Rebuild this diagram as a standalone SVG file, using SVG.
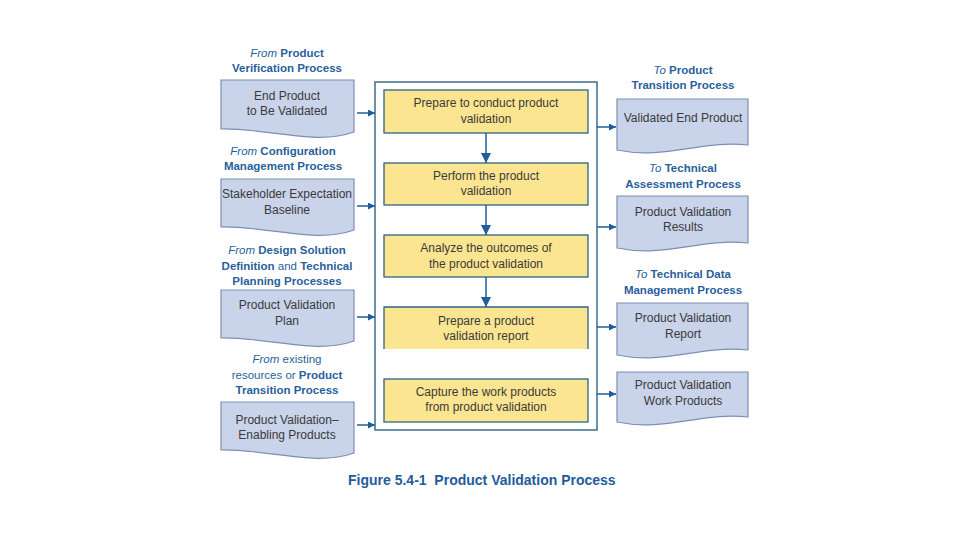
<svg xmlns="http://www.w3.org/2000/svg" width="960" height="540" viewBox="0 0 960 540">
<style>
.doc{fill:#C9D3EA;stroke:#7C8FB6;stroke-width:1.2}
.step{fill:#FCE591;stroke:#2E6485;stroke-width:1.3}
.frame{fill:none;stroke:#2E6485;stroke-width:1.4}
.t{font-family:"Liberation Sans",Arial,sans-serif;font-size:12px;fill:#3A3A3A;text-anchor:middle}
.lb{font-family:"Liberation Sans",Arial,sans-serif;font-size:11.5px;fill:#2A5F9C;text-anchor:middle;font-weight:bold}
.it{font-style:italic;font-weight:normal}
.nb{font-weight:normal}
.cap{font-family:"Liberation Sans",Arial,sans-serif;font-size:14px;fill:#1F5C99;font-weight:bold}
.c{stroke:#1F5E9A;stroke-width:1.5;fill:none}
</style>
<defs>
<marker id="ah" viewBox="0 0 10 10" refX="10" refY="5" markerWidth="7" markerHeight="7" orient="auto" markerUnits="userSpaceOnUse">
<path d="M0,0 L10,5 L0,10 z" fill="#1F5E9A"/>
</marker>
<marker id="ahb" viewBox="0 0 10 10" refX="10" refY="5" markerWidth="10" markerHeight="10" orient="auto" markerUnits="userSpaceOnUse">
<path d="M0,0 L10,5 L0,10 z" fill="#1F5E9A"/>
</marker>
</defs>
<rect width="960" height="540" fill="#FFFFFF"/>

<!-- Left inputs -->
<g id="in1">
<text class="lb" x="287" y="57"><tspan class="it">From</tspan> Product</text>
<text class="lb" x="287" y="72">Verification Process</text>
<path class="doc" d="M221,80 H354 V132 C315,146 270,128 221,129 Z"/>
<text class="t" x="287" y="100">End Product</text>
<text class="t" x="287" y="115">to Be Validated</text>
</g>
<g id="in2">
<text class="lb" x="283" y="155"><tspan class="it">From</tspan> Configuration</text>
<text class="lb" x="283" y="170">Management Process</text>
<path class="doc" d="M221,179 H354 V230 C315,244 270,226 221,227 Z"/>
<text class="t" x="287" y="198">Stakeholder Expectation</text>
<text class="t" x="287" y="214">Baseline</text>
</g>
<g id="in3">
<text class="lb" x="287" y="254"><tspan class="it">From</tspan> Design Solution</text>
<text class="lb" x="287" y="270">Definition <tspan class="nb">and</tspan> Technical</text>
<text class="lb" x="287" y="285">Planning Processes</text>
<path class="doc" d="M221,290 H354 V341 C315,355 270,337 221,338 Z"/>
<text class="t" x="287" y="309">Product Validation</text>
<text class="t" x="287" y="325">Plan</text>
</g>
<g id="in4">
<text class="lb" x="287" y="363"><tspan class="it">From</tspan><tspan class="nb"> existing</tspan></text>
<text class="lb" x="287" y="379"><tspan class="nb">resources or </tspan>Product</text>
<text class="lb" x="287" y="394">Transition Process</text>
<path class="doc" d="M221,402 H354 V453 C315,467 270,449 221,450 Z"/>
<text class="t" x="287" y="424">Product Validation–</text>
<text class="t" x="287" y="439">Enabling Products</text>
</g>

<!-- Central process -->
<g id="frame">
<rect class="frame" x="375" y="82" width="222" height="348"/>
</g>
<g id="s1">
<rect class="step" x="384" y="90" width="204" height="43"/>
<text class="t" x="486" y="107">Prepare to conduct product</text>
<text class="t" x="486" y="123">validation</text>
</g>
<g id="s2">
<rect class="step" x="384" y="163" width="204" height="42"/>
<text class="t" x="486" y="180">Perform the product</text>
<text class="t" x="486" y="195">validation</text>
</g>
<g id="s3">
<rect class="step" x="384" y="235" width="204" height="42"/>
<text class="t" x="486" y="252">Analyze the outcomes of</text>
<text class="t" x="486" y="268">the product validation</text>
</g>
<g id="s4">
<rect x="384" y="307" width="204" height="42" fill="#FCE591"/>
<path d="M384,349 V307 H588 V349" fill="none" stroke="#2E6485" stroke-width="1.3"/>
<text class="t" x="486" y="325">Prepare a product</text>
<text class="t" x="486" y="340">validation report</text>
</g>
<g id="s5">
<rect class="step" x="384" y="379" width="204" height="43"/>
<text class="t" x="486" y="396">Capture the work products</text>
<text class="t" x="486" y="411">from product validation</text>
</g>

<!-- Right outputs -->
<g id="out1">
<text class="lb" x="683" y="74"><tspan class="it">To</tspan> Product</text>
<text class="lb" x="683" y="89">Transition Process</text>
<path class="doc" d="M617,99 H748 V145 C700,140 665,160 617,150 Z"/>
<text class="t" x="683" y="122">Validated End Product</text>
</g>
<g id="out2">
<text class="lb" x="683" y="172"><tspan class="it">To</tspan> Technical</text>
<text class="lb" x="683" y="188">Assessment Process</text>
<path class="doc" d="M617,196 H748 V243 C700,238 665,258 617,248 Z"/>
<text class="t" x="683" y="216">Product Validation</text>
<text class="t" x="683" y="231">Results</text>
</g>
<g id="out3">
<text class="lb" x="683" y="278"><tspan class="it">To</tspan> Technical Data</text>
<text class="lb" x="683" y="294">Management Process</text>
<path class="doc" d="M617,303 H748 V350 C700,345 665,365 617,355 Z"/>
<text class="t" x="683" y="322">Product Validation</text>
<text class="t" x="683" y="338">Report</text>
</g>
<g id="out4">
<path class="doc" d="M617,372 H748 V417 C700,412 665,432 617,422 Z"/>
<text class="t" x="683" y="389">Product Validation</text>
<text class="t" x="683" y="405">Work Products</text>
</g>

<!-- Connectors -->
<g id="connectors">
<line class="c" x1="357" y1="113" x2="375" y2="113" marker-end="url(#ah)"/>
<line class="c" x1="357" y1="206" x2="375" y2="206" marker-end="url(#ah)"/>
<line class="c" x1="357" y1="317" x2="375" y2="317" marker-end="url(#ah)"/>
<line class="c" x1="357" y1="425" x2="375" y2="425" marker-end="url(#ah)"/>
<line class="c" x1="486" y1="133" x2="486" y2="163" marker-end="url(#ahb)"/>
<line class="c" x1="486" y1="205" x2="486" y2="235" marker-end="url(#ahb)"/>
<line class="c" x1="486" y1="277" x2="486" y2="307" marker-end="url(#ahb)"/>
<line class="c" x1="597" y1="127" x2="616" y2="127" marker-end="url(#ah)"/>
<line class="c" x1="597" y1="227" x2="616" y2="227" marker-end="url(#ah)"/>
<line class="c" x1="597" y1="327" x2="616" y2="327" marker-end="url(#ah)"/>
<line class="c" x1="597" y1="394" x2="616" y2="394" marker-end="url(#ah)"/>
</g>

<text class="cap" x="348" y="485" xml:space="preserve">Figure 5.4-1  Product Validation Process</text>
</svg>
